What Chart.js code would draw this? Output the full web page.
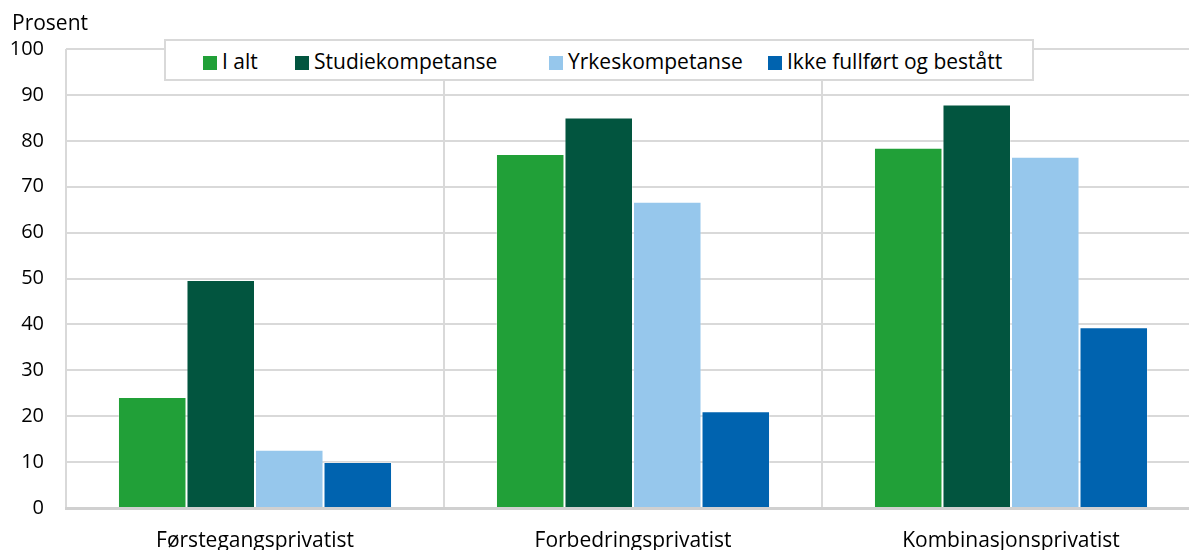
<!DOCTYPE html>
<html>
<head>
<meta charset="utf-8">
<script src="https://cdn.jsdelivr.net/npm/chart.js@4"></script>
<style>
    html, body { margin: 0; padding: 0; background: #fff; overflow: hidden; }
    #wrap { position: relative; width: 1200px; height: 560px; }
    #unit { position: absolute; left: 12px; top: 8px; font: 21px "Open Sans"; color: #000; }
    #legend {
        position: absolute; left: 164px; top: 39px; width: 866px; height: 38px;
        border: 2px solid #d9d9d9; background: #fff;
        font: 21px "Open Sans"; color: #000;
    }
    #legend div { position: absolute; top: 6px; white-space: nowrap; }
    #legend span.box { display: inline-block; width: 14px; height: 14px; margin-right: 5px; vertical-align: -1px; }
</style>
</head>
<body>
<div id="wrap">
    <canvas id="bar-chart" width="1200" height="560"></canvas>
    <div id="unit">Prosent</div>
    <div id="legend"></div>
</div>
<script>
let barCanvas = document.getElementById("bar-chart");

// Data
const categories = ["Førstegangsprivatist", "Forbedringsprivatist", "Kombinasjonsprivatist"];
const seriesNames = ["I alt", "Studiekompetanse", "Yrkeskompetanse", "Ikke fullført og bestått"];
const iAlt = [24.2, 77.1, 78.5];
const studie = [49.7, 85.1, 87.9];
const yrkes = [12.7, 66.7, 76.5];
const ikkeFullfort = [10.0, 21.1, 39.4];
const yTicks = [0, 10, 20, 30, 40, 50, 60, 70, 80, 90, 100];

const colors = ["#21a038", "#02553f", "#96c7ec", "#0063af"];
const values = [iAlt, studie, yrkes, ikkeFullfort];

// legend item left edges inside the box (px)
const legendLeft = [37, 129, 383, 602];

const barData = {
    labels: categories,
    datasets: seriesNames.map((name, i) => ({
        label: name,
        data: values[i],
        backgroundColor: colors[i],
        borderColor: 'rgba(255, 255, 255, .35)',
        borderWidth: 1,
        categoryPercentage: 0.725,
        barPercentage: 1
    }))
};

const gridGray = '#d9d9d9';

const barOptions = {
    responsive: false,
    animation: false,
    layout: {
        padding: { top: 49, left: 0, right: 0, bottom: 0 }
    },
    scales: {
        x: {
            afterFit: (scale) => { scale.height = 52; },
            grid: { color: gridGray, lineWidth: 2, drawTicks: false, offset: true },
            border: { color: '#d0d0d0', width: 3 },
            ticks: { font: { family: 'Open Sans', size: 21 }, color: '#000', padding: 20 }
        },
        y: {
            min: 0,
            max: 100,
            afterBuildTicks: (scale) => {
                scale.ticks = yTicks.map(v => ({ value: v }));
            },
            afterFit: (scale) => { scale.width = 66; },
            grid: { color: gridGray, lineWidth: 2, drawTicks: false },
            border: { display: false },
            ticks: { font: { family: 'Open Sans', size: 20 }, color: '#000', padding: 22 }
        }
    },
    plugins: {
        legend: { display: false },
        tooltip: { enabled: false }
    }
};

let barChart = new Chart(barCanvas, {
    type: 'bar',
    data: barData,
    options: barOptions
});

// Legend
let legend = document.getElementById("legend");
seriesNames.forEach((name, i) => {
    let item = document.createElement("div");
    item.style.left = legendLeft[i] + "px";
    item.innerHTML = '<span class="box" style="background:' + colors[i] + '"></span>' + name;
    legend.appendChild(item);
});
</script>
</body>
</html>
